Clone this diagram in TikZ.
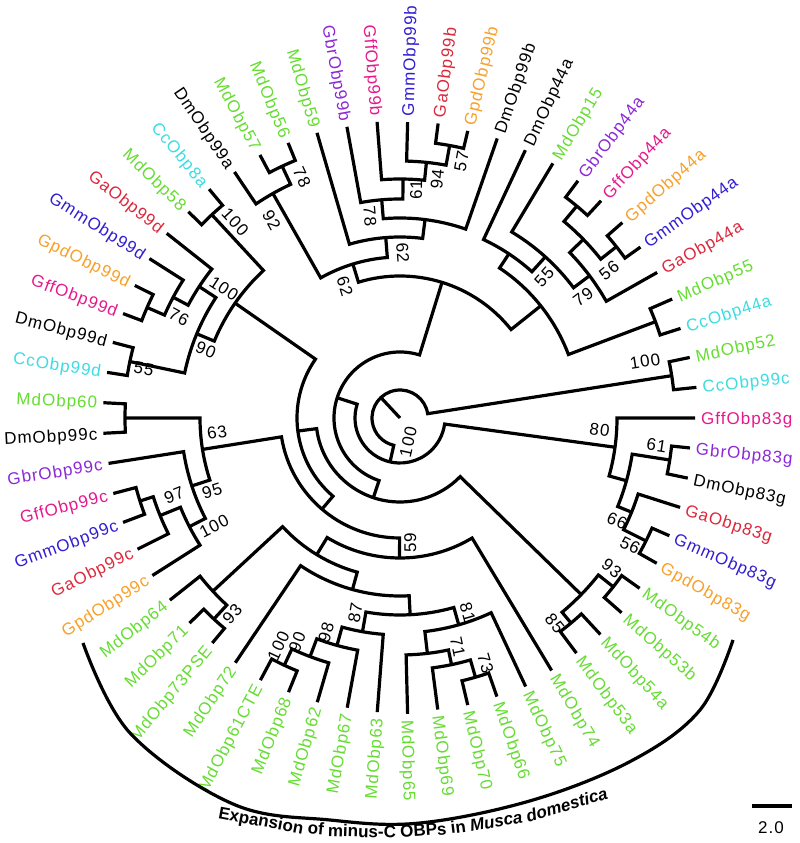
\documentclass[tikz,border=0pt]{standalone}
\usepackage{fontspec}
\setmainfont{Liberation Sans}[LetterSpace=6]
\newfontfamily\capfont{Liberation Sans}
\definecolor{cMd}{RGB}{102,220,51}
\definecolor{cGff}{RGB}{230,25,140}
\definecolor{cGbr}{RGB}{140,40,215}
\definecolor{cGmm}{RGB}{50,30,210}
\definecolor{cGa}{RGB}{220,40,60}
\definecolor{cGpd}{RGB}{248,160,40}
\definecolor{cCc}{RGB}{60,220,225}
\definecolor{cDm}{RGB}{0,0,0}
\tikzset{
  branch/.style={line width=3.2pt, line join=miter, line cap=butt},
  leaflab/.style={font=\fontsize{17}{20}\selectfont, inner sep=0pt, text height=12.2pt, text depth=0pt},
  bootlab/.style={font=\fontsize{17}{20}\selectfont, inner sep=0pt, text height=12.2pt, text depth=0pt, anchor=center},
  capword/.style={font=\capfont\bfseries\fontsize{17}{20}\selectfont, inner sep=0pt, anchor=base}
}
\newcommand\Leaf[5]{%
  \pgfmathsetmacro\tmpa{#2*5.90163934}%
  \pgfmathsetmacro\tmpr{#3+6}%
  \expandafter\xdef\csname TA#1\endcsname{\tmpa}%
  \coordinate (#1) at (\tmpa:#3);
  \ifdim\tmpa pt>90pt
    \ifdim\tmpa pt<270pt
      \node[leaflab,text=#4,anchor=east,rotate=\tmpa-180] (#1-t) at (\tmpa:\tmpr) {#5};
    \else
      \node[leaflab,text=#4,anchor=west,rotate=\tmpa] (#1-t) at (\tmpa:\tmpr) {#5};
    \fi
  \else
    \node[leaflab,text=#4,anchor=west,rotate=\tmpa] (#1-t) at (\tmpa:\tmpr) {#5};
  \fi
}
\newcommand\Inode[4]{%
  \edef\ca{\csname TA#2\endcsname}%
  \edef\cb{\csname TA#3\endcsname}%
  \pgfmathsetmacro\tmpa{(\ca+\cb)/2}%
  \expandafter\xdef\csname TA#1\endcsname{\tmpa}%
  \coordinate (#1) at (\tmpa:#4);
  \coordinate (#2-b) at (\ca:#4);
  \coordinate (#3-b) at (\cb:#4);
  \draw[branch] (#2) -- (#2-b) arc[start angle=\ca, end angle=\cb, radius=#4pt] -- (#3);
}
\newcommand\Boot[4]{%
  \edef\na{\csname TA#1\endcsname}%
  \ifdim\na pt>90pt
    \ifdim\na pt<270pt \pgfmathsetmacro\rr{\na-180}\else\edef\rr{\na}\fi
  \else\edef\rr{\na}\fi
  \node[bootlab,rotate=\rr] (#1-bs) at (#2:#3) {#4};
}
\newcommand\Capw[3]{% name, angle, word
  \node[capword,rotate=#2-270] (#1) at (#2:662) {#3};
}
\begin{document}
\begin{tikzpicture}[x=1pt,y=1pt]
\useasboundingbox (0,0) rectangle (800,843);
\begin{scope}[shift={(400,425)}]
% leaves
\Leaf{CcObp99c}{1}{298}{cCc}{CcObp99c}
\Leaf{MdObp52}{2}{296}{cMd}{MdObp52}
\Leaf{CcObp44a}{3}{294.5}{cCc}{CcObp44a}
\Leaf{MdObp55}{4}{297}{cMd}{MdObp55}
\Leaf{GaObp44a}{5}{295.5}{cGa}{GaObp44a}
\Leaf{GmmObp44a}{6}{295}{cGmm}{GmmObp44a}
\Leaf{GpdObp44a}{7}{296}{cGpd}{GpdObp44a}
\Leaf{GffObp44a}{8}{296}{cGff}{GffObp44a}
\Leaf{GbrObp44a}{9}{296.5}{cGbr}{GbrObp44a}
\Leaf{MdObp15}{10}{297}{cMd}{MdObp15}
\Leaf{DmObp44a}{11}{295.7}{cDm}{DmObp44a}
\Leaf{DmObp99b}{12}{296}{cDm}{DmObp99b}
\Leaf{GpdObp99b}{13}{295}{cGpd}{GpdObp99b}
\Leaf{GaObp99b}{14}{297}{cGa}{GaObp99b}
\Leaf{GmmObp99b}{15}{296}{cGmm}{GmmObp99b}
\Leaf{GffObp99b}{16}{297}{cGff}{GffObp99b}
\Leaf{GbrObp99b}{17}{296}{cGbr}{GbrObp99b}
\Leaf{MdObp59}{18}{297}{cMd}{MdObp59}
\Leaf{MdObp56}{19}{297}{cMd}{MdObp56}
\Leaf{MdObp57}{20}{298}{cMd}{MdObp57}
\Leaf{DmObp99a}{21}{296.5}{cDm}{DmObp99a}
\Leaf{CcObp8a}{22}{298}{cCc}{CcObp8a}
\Leaf{MdObp58}{23}{295.5}{cMd}{MdObp58}
\Leaf{GaObp99d}{24}{297.5}{cGa}{GaObp99d}
\Leaf{GmmObp99d}{25}{297}{cGmm}{GmmObp99d}
\Leaf{GpdObp99d}{26}{296.5}{cGpd}{GpdObp99d}
\Leaf{GffObp99d}{27}{296}{cGff}{GffObp99d}
\Leaf{DmObp99d}{28}{297}{cDm}{DmObp99d}
\Leaf{CcObp99d}{29}{296.5}{cCc}{CcObp99d}
\Leaf{MdObp60}{30}{297}{cMd}{MdObp60}
\Leaf{DmObp99c}{31}{297}{cDm}{DmObp99c}
\Leaf{GbrObp99c}{32}{295}{cGbr}{GbrObp99c}
\Leaf{GffObp99c}{33}{296.5}{cGff}{GffObp99c}
\Leaf{GmmObp99c}{34}{296}{cGmm}{GmmObp99c}
\Leaf{GaObp99c}{35}{293.5}{cGa}{GaObp99c}
\Leaf{GpdObp99c}{36}{293.5}{cGpd}{GpdObp99c}
\Leaf{MdObp64}{37}{293.5}{cMd}{MdObp64}
\Leaf{MdObp71}{38}{294}{cMd}{MdObp71}
\Leaf{MdObp73PSE}{39}{293}{cMd}{MdObp73PSE}
\Leaf{MdObp72}{40}{295}{cMd}{MdObp72}
\Leaf{MdObp61CTE}{41}{297}{cMd}{MdObp61CTE}
\Leaf{MdObp68}{42}{296}{cMd}{MdObp68}
\Leaf{MdObp62}{43}{296}{cMd}{MdObp62}
\Leaf{MdObp67}{44}{294.5}{cMd}{MdObp67}
\Leaf{MdObp63}{45}{295}{cMd}{MdObp63}
\Leaf{MdObp65}{46}{296}{cMd}{MdObp65}
\Leaf{MdObp69}{47}{294}{cMd}{MdObp69}
\Leaf{MdObp70}{48}{295}{cMd}{MdObp70}
\Leaf{MdObp66}{49}{295}{cMd}{MdObp66}
\Leaf{MdObp75}{50}{296.5}{cMd}{MdObp75}
\Leaf{MdObp74}{51}{294.5}{cMd}{MdObp74}
\Leaf{MdObp53a}{52}{294}{cMd}{MdObp53a}
\Leaf{MdObp54a}{53}{295}{cMd}{MdObp54a}
\Leaf{MdObp53b}{54}{295}{cMd}{MdObp53b}
\Leaf{MdObp54b}{55}{294}{cMd}{MdObp54b}
\Leaf{GpdObp83g}{56}{295}{cGpd}{GpdObp83g}
\Leaf{GmmObp83g}{57}{294}{cGmm}{GmmObp83g}
\Leaf{GaObp83g}{58}{294}{cGa}{GaObp83g}
\Leaf{DmObp83g}{59}{294}{cDm}{DmObp83g}
\Leaf{GbrObp83g}{60}{291.5}{cGbr}{GbrObp83g}
\Leaf{GffObp83g}{61}{295}{cGff}{GffObp83g}
% internal nodes
\Inode{n100a}{CcObp99c}{MdObp52}{275}
\Inode{pr55}{CcObp44a}{MdObp55}{273}
\Inode{n56b}{GmmObp44a}{GpdObp44a}{276}
\Inode{nGG44}{GffObp44a}{GbrObp44a}{276}
\Inode{nK}{n56b}{nGG44}{256}
\Inode{nL}{GaObp44a}{nK}{237}
\Inode{nM}{nL}{MdObp15}{217}
\Inode{nH2}{nM}{DmObp44a}{197}
\Inode{nH1}{pr55}{nH2}{180}
\Inode{n57}{GpdObp99b}{GaObp99b}{277}
\Inode{n94}{n57}{GmmObp99b}{257}
\Inode{n61b}{n94}{GffObp99b}{239}
\Inode{n78b}{n61b}{GbrObp99b}{219}
\Inode{nG3}{DmObp99b}{n78b}{200}
\Inode{nG2}{nG3}{MdObp59}{181}
\Inode{n78c}{MdObp56}{MdObp57}{278}
\Inode{n92}{n78c}{DmObp99a}{258}
\Inode{nG1}{nG2}{n92}{161}
\Inode{nN4}{nH1}{nG1}{142}
\Inode{n100c}{CcObp8a}{MdObp58}{277}
\Inode{nGG99d}{GpdObp99d}{GffObp99d}{276}
\Inode{n76}{GmmObp99d}{nGG99d}{257}
\Inode{n100d}{GaObp99d}{n76}{240}
\Inode{n55d}{DmObp99d}{CcObp99d}{276}
\Inode{n90d}{n100d}{n55d}{220}
\Inode{nBig}{n100c}{n90d}{201}
\Inode{pMd60}{MdObp60}{DmObp99c}{275}
\Inode{nGG99c}{GffObp99c}{GmmObp99c}{273}
\Inode{n97}{nGG99c}{GaObp99c}{259}
\Inode{n100e}{n97}{GpdObp99c}{237}
\Inode{n95}{GbrObp99c}{n100e}{219}
\Inode{n63}{pMd60}{n95}{200}
\Inode{n93a}{MdObp71}{MdObp73PSE}{274}
\Inode{nM2}{MdObp64}{n93a}{255}
\Inode{n100f}{MdObp61CTE}{MdObp68}{273}
\Inode{n90f}{n100f}{MdObp62}{255}
\Inode{n98}{n90f}{MdObp67}{236}
\Inode{n87}{n98}{MdObp63}{217}
\Inode{n73}{MdObp70}{MdObp66}{270}
\Inode{n71}{MdObp69}{n73}{252}
\Inode{nR1}{MdObp65}{n71}{237}
\Inode{n81}{nR1}{MdObp75}{215}
\Inode{nM4}{n87}{n81}{197}
\Inode{nM3}{MdObp72}{nM4}{178}
\Inode{nM1}{nM2}{nM3}{160}
\Inode{n59}{nM1}{MdObp74}{140}
\Inode{nN7}{n63}{n59}{120}
\Inode{nN6}{nBig}{nN7}{103}
\Inode{n85}{MdObp53a}{MdObp54a}{267}
\Inode{n93b}{MdObp53b}{MdObp54b}{272}
\Inode{nP}{n85}{n93b}{253}
\Inode{nN5}{nN6}{nP}{84}
\Inode{nN3}{nN4}{nN5}{66}
\Inode{n56c}{GpdObp83g}{GmmObp83g}{275}
\Inode{n66}{n56c}{GaObp83g}{250}
\Inode{n61c}{DmObp83g}{GbrObp83g}{273}
\Inode{nY}{n66}{n61c}{235}
\Inode{n80}{nY}{GffObp83g}{217}
\Inode{nN2}{nN3}{n80}{45}
\Inode{root}{n100a}{nN2}{28}
\coordinate (ctr) at (0,0);
\draw[branch] (ctr) -- (root);
% bootstrap values
\Boot{n100a}{13.1}{251.5}{100}
\Boot{n80}{356.6}{200}{80}
\Boot{n61c}{354}{258}{61}
\Boot{n66}{334.8}{240}{66}
\Boot{n56c}{331.1}{263}{56}
\Boot{n93b}{324.7}{259.6}{93}
\Boot{n85}{307.1}{257}{85}
\Boot{n81}{289.3}{205.6}{81}
\Boot{n71}{284.2}{236}{71}
\Boot{n73}{289.3}{259.6}{73}
\Boot{n59}{274.6}{125.4}{59}
\Boot{n87}{257}{200}{87}
\Boot{n98}{250.9}{226.4}{98}
\Boot{n90f}{245.3}{246.5}{90}
\Boot{n100f}{241.9}{258.6}{100}
\Boot{n93a}{229.4}{258}{93}
\Boot{n63}{184.4}{183.5}{63}
\Boot{n95}{201.2}{201.7}{95}
\Boot{n97}{198.8}{238.8}{97}
\Boot{n100e}{210.1}{215}{100}
\Boot{n55d}{169}{261}{55}
\Boot{n90d}{160.7}{205.6}{90}
\Boot{n76}{155.4}{243}{76}
\Boot{n100d}{143.6}{218.6}{100}
\Boot{n100c}{130}{256}{100}
\Boot{n92}{122.9}{236}{92}
\Boot{n78c}{112.1}{260}{78}
\Boot{nG1}{112.6}{143}{62}
\Boot{nG2}{89}{165}{62}
\Boot{n78b}{98.4}{204}{78}
\Boot{n61b}{86}{228.6}{61}
\Boot{n94}{81.2}{241.8}{94}
\Boot{n57}{76.6}{264}{57}
\Boot{nM}{44.4}{201.7}{55}
\Boot{nL}{33.5}{219.5}{79}
\Boot{n56b}{35.3}{256}{56}
\Boot{nN2}{288.4}{25.3}{100}
\end{scope}
% bottom bracket
\coordinate (bra) at (83,200);
\coordinate (brb) at (733,203);
\draw[branch] plot[smooth, tension=0.6] coordinates {(bra) (130,110) (233,39) (330,23) (420,20) (533,43) (633,83) (700,133) (brb)};
% caption along the bracket
\begin{scope}[shift={(381,667.5)}]
\Capw{cw1}{259.47}{Expansion}
\Capw{cw2}{264.30}{of}
\Capw{cw3}{268.34}{minus-C}
\Capw{cw4}{273.70}{OBPs}
\Capw{cw5}{276.76}{in}
\Capw{cw6}{280.11}{\itshape Musca}
\Capw{cw7}{286.45}{\itshape domestica}
\end{scope}
% scale bar
\coordinate (sb1) at (752,37);
\coordinate (sb2) at (792,37);
\draw[branch] (sb1) -- (sb2);
\node[bootlab] (sbt) at (771,16) {2.0};
\end{tikzpicture}
\end{document}
